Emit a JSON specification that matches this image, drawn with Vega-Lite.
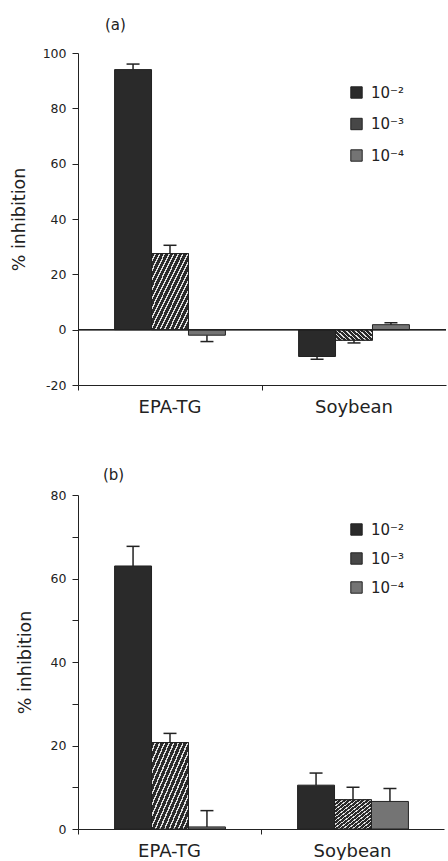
{
  "$schema": "https://vega.github.io/schema/vega-lite/v6.json",
  "padding": {"left": 10, "top": 18, "right": 0, "bottom": 0},
  "background": "white",
  "config": {
    "font": "DejaVu Sans",
    "view": {"stroke": null},
    "axis": {"domainColor": "#222", "tickColor": "#222", "labelColor": "#222", "titleColor": "#222", "grid": false},
    "title": {"color": "#222"}
  },
  "datasets": {
    "bars": [
      {"panel": "a", "oil": "EPA-TG", "conc": "10⁻²", "value": 94, "error_end": 96},
      {"panel": "a", "oil": "EPA-TG", "conc": "10⁻³", "value": 27.5, "error_end": 30.5},
      {"panel": "a", "oil": "EPA-TG", "conc": "10⁻⁴", "value": -2, "error_end": -4.3},
      {"panel": "a", "oil": "Soybean", "conc": "10⁻²", "value": -9.7, "error_end": -10.7},
      {"panel": "a", "oil": "Soybean", "conc": "10⁻³", "value": -3.8, "error_end": -4.8},
      {"panel": "a", "oil": "Soybean", "conc": "10⁻⁴", "value": 1.8, "error_end": 2.5},
      {"panel": "b", "oil": "EPA-TG", "conc": "10⁻²", "value": 63, "error_end": 67.7},
      {"panel": "b", "oil": "EPA-TG", "conc": "10⁻³", "value": 20.7, "error_end": 22.9},
      {"panel": "b", "oil": "EPA-TG", "conc": "10⁻⁴", "value": 0.5, "error_end": 4.4},
      {"panel": "b", "oil": "Soybean", "conc": "10⁻²", "value": 10.5, "error_end": 13.4},
      {"panel": "b", "oil": "Soybean", "conc": "10⁻³", "value": 7.0, "error_end": 10.0},
      {"panel": "b", "oil": "Soybean", "conc": "10⁻⁴", "value": 6.6, "error_end": 9.7}
    ]
  },
  "spacing": 52,
  "resolve": {"scale": {"fill": "shared", "y": "independent", "x": "independent"}, "legend": {"fill": "independent"}},
  "vconcat": [
    {
      "width": 368,
      "height": 332,
      "title": {"text": "(a)", "anchor": "start", "frame": "group", "dx": 27, "offset": 14, "fontSize": 15, "fontWeight": "normal"},
      "data": {"name": "bars"},
      "transform": [{"filter": "datum.panel == 'a'"}],
      "layer": [
        {
          "mark": {"type": "bar", "stroke": "#222", "strokeWidth": 1},
          "encoding": {
            "x": {"field": "oil", "type": "nominal", "sort": ["EPA-TG", "Soybean"], "scale": {"paddingInner": 0, "paddingOuter": 0},
              "axis": {"title": null, "labelAngle": 0, "bandPosition": 0, "ticks": true, "tickSize": 5, "labelFontSize": 18, "labelPadding": 8}},
            "xOffset": {"field": "conc", "type": "nominal", "sort": ["10⁻²", "10⁻³", "10⁻⁴"], "scale": {"domain": ["10⁻²", "10⁻³", "10⁻⁴"], "paddingInner": 0, "paddingOuter": 0.99}},
            "y": {"field": "value", "type": "quantitative", "scale": {"domain": [-20, 100], "nice": false, "zero": false},
              "axis": {"values": [-20, -10, 0, 10, 20, 30, 40, 50, 60, 70, 80, 90, 100], "labelExpr": "datum.value % 20 == 0 ? '' + datum.value : ''",
                "title": "% inhibition", "titleFontSize": 17.5, "titleFontWeight": "normal", "titlePadding": 14, "tickSize": 6, "labelFontSize": 12.5, "labelPadding": 6}},
            "fill": {"field": "conc", "type": "nominal", "sort": ["10⁻²", "10⁻³", "10⁻⁴"],
              "scale": {"domain": ["10⁻²", "10⁻³", "10⁻⁴"], "range": ["#2a2a2a", "#474747", "#747474"]},
              "legend": {"orient": "none", "legendX": 271, "legendY": 32, "title": null, "labelFontSize": 15, "labelColor": "#222", "symbolType": "square", "symbolSize": 130, "symbolStrokeColor": "#222", "symbolStrokeWidth": 1, "symbolOpacity": 1, "rowPadding": 14.5, "labelOffset": 7}}
          }
        },
        {
          "transform": [{"filter": "datum.conc == '10⁻³'"}],
          "mark": {"type": "bar", "stroke": "#222", "strokeWidth": 1,
            "fill": {"gradient": "linear", "x1": 0, "y1": 0, "x2": 1, "y2": 1, "stops": [
              {"offset": 0, "color": "#2a2a2a"}, {"offset": 0.0425, "color": "#2a2a2a"}, {"offset": 0.0425, "color": "#e0e0e0"}, {"offset": 0.0625, "color": "#e0e0e0"},
              {"offset": 0.0625, "color": "#2a2a2a"}, {"offset": 0.105, "color": "#2a2a2a"}, {"offset": 0.105, "color": "#e0e0e0"}, {"offset": 0.125, "color": "#e0e0e0"},
              {"offset": 0.125, "color": "#2a2a2a"}, {"offset": 0.1675, "color": "#2a2a2a"}, {"offset": 0.1675, "color": "#e0e0e0"}, {"offset": 0.1875, "color": "#e0e0e0"},
              {"offset": 0.1875, "color": "#2a2a2a"}, {"offset": 0.23, "color": "#2a2a2a"}, {"offset": 0.23, "color": "#e0e0e0"}, {"offset": 0.25, "color": "#e0e0e0"},
              {"offset": 0.25, "color": "#2a2a2a"}, {"offset": 0.2925, "color": "#2a2a2a"}, {"offset": 0.2925, "color": "#e0e0e0"}, {"offset": 0.3125, "color": "#e0e0e0"},
              {"offset": 0.3125, "color": "#2a2a2a"}, {"offset": 0.355, "color": "#2a2a2a"}, {"offset": 0.355, "color": "#e0e0e0"}, {"offset": 0.375, "color": "#e0e0e0"},
              {"offset": 0.375, "color": "#2a2a2a"}, {"offset": 0.4175, "color": "#2a2a2a"}, {"offset": 0.4175, "color": "#e0e0e0"}, {"offset": 0.4375, "color": "#e0e0e0"},
              {"offset": 0.4375, "color": "#2a2a2a"}, {"offset": 0.48, "color": "#2a2a2a"}, {"offset": 0.48, "color": "#e0e0e0"}, {"offset": 0.5, "color": "#e0e0e0"},
              {"offset": 0.5, "color": "#2a2a2a"}, {"offset": 0.5425, "color": "#2a2a2a"}, {"offset": 0.5425, "color": "#e0e0e0"}, {"offset": 0.5625, "color": "#e0e0e0"},
              {"offset": 0.5625, "color": "#2a2a2a"}, {"offset": 0.605, "color": "#2a2a2a"}, {"offset": 0.605, "color": "#e0e0e0"}, {"offset": 0.625, "color": "#e0e0e0"},
              {"offset": 0.625, "color": "#2a2a2a"}, {"offset": 0.6675, "color": "#2a2a2a"}, {"offset": 0.6675, "color": "#e0e0e0"}, {"offset": 0.6875, "color": "#e0e0e0"},
              {"offset": 0.6875, "color": "#2a2a2a"}, {"offset": 0.73, "color": "#2a2a2a"}, {"offset": 0.73, "color": "#e0e0e0"}, {"offset": 0.75, "color": "#e0e0e0"},
              {"offset": 0.75, "color": "#2a2a2a"}, {"offset": 0.7925, "color": "#2a2a2a"}, {"offset": 0.7925, "color": "#e0e0e0"}, {"offset": 0.8125, "color": "#e0e0e0"},
              {"offset": 0.8125, "color": "#2a2a2a"}, {"offset": 0.855, "color": "#2a2a2a"}, {"offset": 0.855, "color": "#e0e0e0"}, {"offset": 0.875, "color": "#e0e0e0"},
              {"offset": 0.875, "color": "#2a2a2a"}, {"offset": 0.9175, "color": "#2a2a2a"}, {"offset": 0.9175, "color": "#e0e0e0"}, {"offset": 0.9375, "color": "#e0e0e0"},
              {"offset": 0.9375, "color": "#2a2a2a"}, {"offset": 0.98, "color": "#2a2a2a"}, {"offset": 0.98, "color": "#e0e0e0"}, {"offset": 1, "color": "#e0e0e0"}
            ]}},
          "encoding": {
            "x": {"field": "oil", "type": "nominal", "sort": ["EPA-TG", "Soybean"]},
            "xOffset": {"field": "conc", "type": "nominal", "sort": ["10⁻²", "10⁻³", "10⁻⁴"]},
            "y": {"field": "value", "type": "quantitative"}
          }
        },
        {
          "mark": {"type": "rule", "color": "#222", "strokeWidth": 1.5},
          "encoding": {
            "x": {"field": "oil", "type": "nominal", "sort": ["EPA-TG", "Soybean"]},
            "xOffset": {"field": "conc", "type": "nominal", "sort": ["10⁻²", "10⁻³", "10⁻⁴"]},
            "y": {"field": "value", "type": "quantitative"}, "y2": {"field": "error_end"}}
        },
        {
          "mark": {"type": "tick", "orient": "horizontal", "size": 13, "thickness": 1.5, "color": "#222", "opacity": 1},
          "encoding": {
            "x": {"field": "oil", "type": "nominal", "sort": ["EPA-TG", "Soybean"]},
            "xOffset": {"field": "conc", "type": "nominal", "sort": ["10⁻²", "10⁻³", "10⁻⁴"]},
            "y": {"field": "error_end", "type": "quantitative"}}
        },
        {
          "mark": {"type": "rule", "color": "#222", "strokeWidth": 1},
          "encoding": {"y": {"datum": 0}}
        }
      ]
    },
    {
      "width": 366,
      "height": 334,
      "title": {"text": "(b)", "anchor": "start", "frame": "group", "dx": 25, "offset": 6, "fontSize": 15, "fontWeight": "normal"},
      "data": {"name": "bars"},
      "transform": [{"filter": "datum.panel == 'b'"}],
      "layer": [
        {
          "mark": {"type": "bar", "stroke": "#222", "strokeWidth": 1},
          "encoding": {
            "x": {"field": "oil", "type": "nominal", "sort": ["EPA-TG", "Soybean"], "scale": {"paddingInner": 0, "paddingOuter": 0},
              "axis": {"title": null, "labelAngle": 0, "bandPosition": 0, "ticks": true, "tickSize": 5, "labelFontSize": 18, "labelPadding": 8}},
            "xOffset": {"field": "conc", "type": "nominal", "sort": ["10⁻²", "10⁻³", "10⁻⁴"], "scale": {"domain": ["10⁻²", "10⁻³", "10⁻⁴"], "paddingInner": 0, "paddingOuter": 0.99}},
            "y": {"field": "value", "type": "quantitative", "scale": {"domain": [0, 80], "nice": false},
              "axis": {"values": [0, 10, 20, 30, 40, 50, 60, 70, 80], "labelExpr": "datum.value % 20 == 0 ? '' + datum.value : ''",
                "title": "% inhibition", "titleFontSize": 17.5, "titleFontWeight": "normal", "titlePadding": 16, "tickSize": 6, "labelFontSize": 12.5, "labelPadding": 6}},
            "fill": {"field": "conc", "type": "nominal", "sort": ["10⁻²", "10⁻³", "10⁻⁴"],
              "legend": {"orient": "none", "legendX": 271, "legendY": 27, "title": null, "labelFontSize": 15, "labelColor": "#222", "symbolType": "square", "symbolSize": 130, "symbolStrokeColor": "#222", "symbolStrokeWidth": 1, "symbolOpacity": 1, "rowPadding": 12, "labelOffset": 7}}
          }
        },
        {
          "transform": [{"filter": "datum.conc == '10⁻³'"}],
          "mark": {"type": "bar", "stroke": "#222", "strokeWidth": 1,
            "fill": {"gradient": "linear", "x1": 0, "y1": 0, "x2": 1, "y2": 1, "stops": [
              {"offset": 0, "color": "#2a2a2a"}, {"offset": 0.0425, "color": "#2a2a2a"}, {"offset": 0.0425, "color": "#e0e0e0"}, {"offset": 0.0625, "color": "#e0e0e0"},
              {"offset": 0.0625, "color": "#2a2a2a"}, {"offset": 0.105, "color": "#2a2a2a"}, {"offset": 0.105, "color": "#e0e0e0"}, {"offset": 0.125, "color": "#e0e0e0"},
              {"offset": 0.125, "color": "#2a2a2a"}, {"offset": 0.1675, "color": "#2a2a2a"}, {"offset": 0.1675, "color": "#e0e0e0"}, {"offset": 0.1875, "color": "#e0e0e0"},
              {"offset": 0.1875, "color": "#2a2a2a"}, {"offset": 0.23, "color": "#2a2a2a"}, {"offset": 0.23, "color": "#e0e0e0"}, {"offset": 0.25, "color": "#e0e0e0"},
              {"offset": 0.25, "color": "#2a2a2a"}, {"offset": 0.2925, "color": "#2a2a2a"}, {"offset": 0.2925, "color": "#e0e0e0"}, {"offset": 0.3125, "color": "#e0e0e0"},
              {"offset": 0.3125, "color": "#2a2a2a"}, {"offset": 0.355, "color": "#2a2a2a"}, {"offset": 0.355, "color": "#e0e0e0"}, {"offset": 0.375, "color": "#e0e0e0"},
              {"offset": 0.375, "color": "#2a2a2a"}, {"offset": 0.4175, "color": "#2a2a2a"}, {"offset": 0.4175, "color": "#e0e0e0"}, {"offset": 0.4375, "color": "#e0e0e0"},
              {"offset": 0.4375, "color": "#2a2a2a"}, {"offset": 0.48, "color": "#2a2a2a"}, {"offset": 0.48, "color": "#e0e0e0"}, {"offset": 0.5, "color": "#e0e0e0"},
              {"offset": 0.5, "color": "#2a2a2a"}, {"offset": 0.5425, "color": "#2a2a2a"}, {"offset": 0.5425, "color": "#e0e0e0"}, {"offset": 0.5625, "color": "#e0e0e0"},
              {"offset": 0.5625, "color": "#2a2a2a"}, {"offset": 0.605, "color": "#2a2a2a"}, {"offset": 0.605, "color": "#e0e0e0"}, {"offset": 0.625, "color": "#e0e0e0"},
              {"offset": 0.625, "color": "#2a2a2a"}, {"offset": 0.6675, "color": "#2a2a2a"}, {"offset": 0.6675, "color": "#e0e0e0"}, {"offset": 0.6875, "color": "#e0e0e0"},
              {"offset": 0.6875, "color": "#2a2a2a"}, {"offset": 0.73, "color": "#2a2a2a"}, {"offset": 0.73, "color": "#e0e0e0"}, {"offset": 0.75, "color": "#e0e0e0"},
              {"offset": 0.75, "color": "#2a2a2a"}, {"offset": 0.7925, "color": "#2a2a2a"}, {"offset": 0.7925, "color": "#e0e0e0"}, {"offset": 0.8125, "color": "#e0e0e0"},
              {"offset": 0.8125, "color": "#2a2a2a"}, {"offset": 0.855, "color": "#2a2a2a"}, {"offset": 0.855, "color": "#e0e0e0"}, {"offset": 0.875, "color": "#e0e0e0"},
              {"offset": 0.875, "color": "#2a2a2a"}, {"offset": 0.9175, "color": "#2a2a2a"}, {"offset": 0.9175, "color": "#e0e0e0"}, {"offset": 0.9375, "color": "#e0e0e0"},
              {"offset": 0.9375, "color": "#2a2a2a"}, {"offset": 0.98, "color": "#2a2a2a"}, {"offset": 0.98, "color": "#e0e0e0"}, {"offset": 1, "color": "#e0e0e0"}
            ]}},
          "encoding": {
            "x": {"field": "oil", "type": "nominal", "sort": ["EPA-TG", "Soybean"]},
            "xOffset": {"field": "conc", "type": "nominal", "sort": ["10⁻²", "10⁻³", "10⁻⁴"]},
            "y": {"field": "value", "type": "quantitative"}
          }
        },
        {
          "mark": {"type": "rule", "color": "#222", "strokeWidth": 1.5},
          "encoding": {
            "x": {"field": "oil", "type": "nominal", "sort": ["EPA-TG", "Soybean"]},
            "xOffset": {"field": "conc", "type": "nominal", "sort": ["10⁻²", "10⁻³", "10⁻⁴"]},
            "y": {"field": "value", "type": "quantitative"}, "y2": {"field": "error_end"}}
        },
        {
          "mark": {"type": "tick", "orient": "horizontal", "size": 13, "thickness": 1.5, "color": "#222", "opacity": 1},
          "encoding": {
            "x": {"field": "oil", "type": "nominal", "sort": ["EPA-TG", "Soybean"]},
            "xOffset": {"field": "conc", "type": "nominal", "sort": ["10⁻²", "10⁻³", "10⁻⁴"]},
            "y": {"field": "error_end", "type": "quantitative"}}
        }
      ]
    }
  ]
}
